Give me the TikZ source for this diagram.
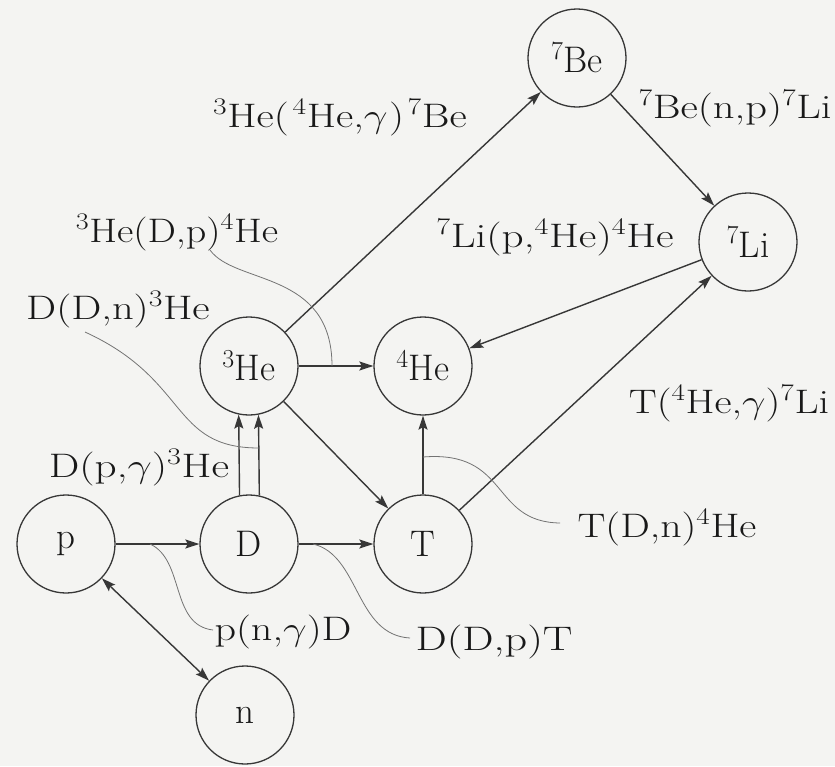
\documentclass[tikz,border=0pt]{standalone}
\usepackage{fix-cm}
\usetikzlibrary{arrows.meta}
\definecolor{linec}{RGB}{55,55,55}
\definecolor{textc}{RGB}{25,25,25}
\definecolor{leadc}{RGB}{115,115,115}
\definecolor{bgc}{RGB}{244,244,242}
\newcommand{\wide}[2]{\scalebox{#1}[1]{#2}}
\begin{document}
\begin{tikzpicture}[x=1pt,y=-1pt,
  nuc/.style={circle,draw=linec,line width=1.3pt,minimum size=98pt,inner sep=0pt,text=textc,font=\fontsize{37}{40}\selectfont},
  tip/.tip={Stealth[length=14pt,width=9pt,inset=2.5pt]},
  rx/.style={draw=linec,line width=1.4pt,-tip},
  lab/.style={font=\fontsize{34}{38}\selectfont,anchor=base,inner sep=0pt,text=textc},
  lead/.style={draw=leadc,line width=0.8pt}]
\fill[bgc] (0,0) rectangle (835,766);
\useasboundingbox (0,0) rectangle (835,766);
% nuclei
\node[nuc] (Be)  at (577,58)  {$^{7}$Be};
\node[nuc] (Li)  at (748,242) {$^{7}$Li};
\node[nuc] (He3) at (249,366) {$^{3}$He};
\node[nuc] (He4) at (423,366) {$^{4}$He};
\node[nuc] (p)   at (66,544)  {p};
\node[nuc] (D)   at (249,544) {D};
\node[nuc] (T)   at (423,544) {T};
\node[nuc] (n)   at (245,715) {n};
% reactions
\draw[rx] (He3) -- (Be);
\draw[rx] (Be) -- (Li);
\draw[rx] (Li) -- (He4);
\draw[rx] (T) -- (Li);
\draw[rx] (He3) -- (He4);
\draw[rx] (He3) -- (T);
\draw[rx] (T) -- (He4);
\draw[rx] (D.101.7) -- (He3.258.3);
\draw[rx] (D.78.3) -- (He3.281.7);
\draw[rx] (D) -- (T);
\draw[rx] (p) -- (D);
\draw[rx,tip-tip] (p) -- (n);
% labels
\node[lab] (L1)  at (340,127) {\wide{1.245}{$^{3}$He(\hspace{3pt}$^{4}$He,$\gamma$\hspace{1pt})\hspace{3pt}$^{7}$Be}};
\node[lab] (L2)  at (735,118) {\wide{1.25}{$^{7}$Be(n,p)$^{7}$Li}};
\node[lab] (L3)  at (177,242) {\wide{1.18}{$^{3}$He(D,p)$^{4}$He}};
\node[lab] (L4)  at (555,247) {\wide{1.27}{$^{7}$Li(p,$^{4}$He)$^{4}$He}};
\node[lab] (L5)  at (118,319) {\wide{1.25}{D(D,n)$^{3}$He}};
\node[lab] (L6)  at (729,413) {\wide{1.23}{T($^{4}$He,$\gamma$)$^{7}$Li}};
\node[lab] (L7)  at (139,477) {\wide{1.27}{D(p,$\gamma$)$^{3}$He}};
\node[lab] (L8)  at (667,537) {\wide{1.23}{T(D,n)$^{4}$He}};
\node[lab] (L9)  at (283,640) {\wide{1.24}{p(n,$\gamma$)D}};
\node[lab] (L10) at (494,650) {\wide{1.30}{D(D,p)T}};
% leader lines
\coordinate (c3a) at (210,250);  \coordinate (c3b) at (332,366);
\coordinate (c5a) at (85,332);   \coordinate (c5b) at (259,448);
\coordinate (c8a) at (423,457);  \coordinate (c8b) at (560,523);
\coordinate (c9a) at (150,544);  \coordinate (c9b) at (213,630);
\coordinate (c10a) at (313,544); \coordinate (c10b) at (410,638);
\draw[lead] (c3a) .. controls (235,285) and (332,270) .. (c3b);
\draw[lead] (c5a) .. controls (190,380) and (170,448) .. (c5b);
\draw[lead] (c8a) .. controls (510,450) and (490,522) .. (c8b);
\draw[lead] (c9a) .. controls (185,560) and (170,625) .. (c9b);
\draw[lead] (c10a) .. controls (360,555) and (355,635) .. (c10b);
\end{tikzpicture}
\end{document}
